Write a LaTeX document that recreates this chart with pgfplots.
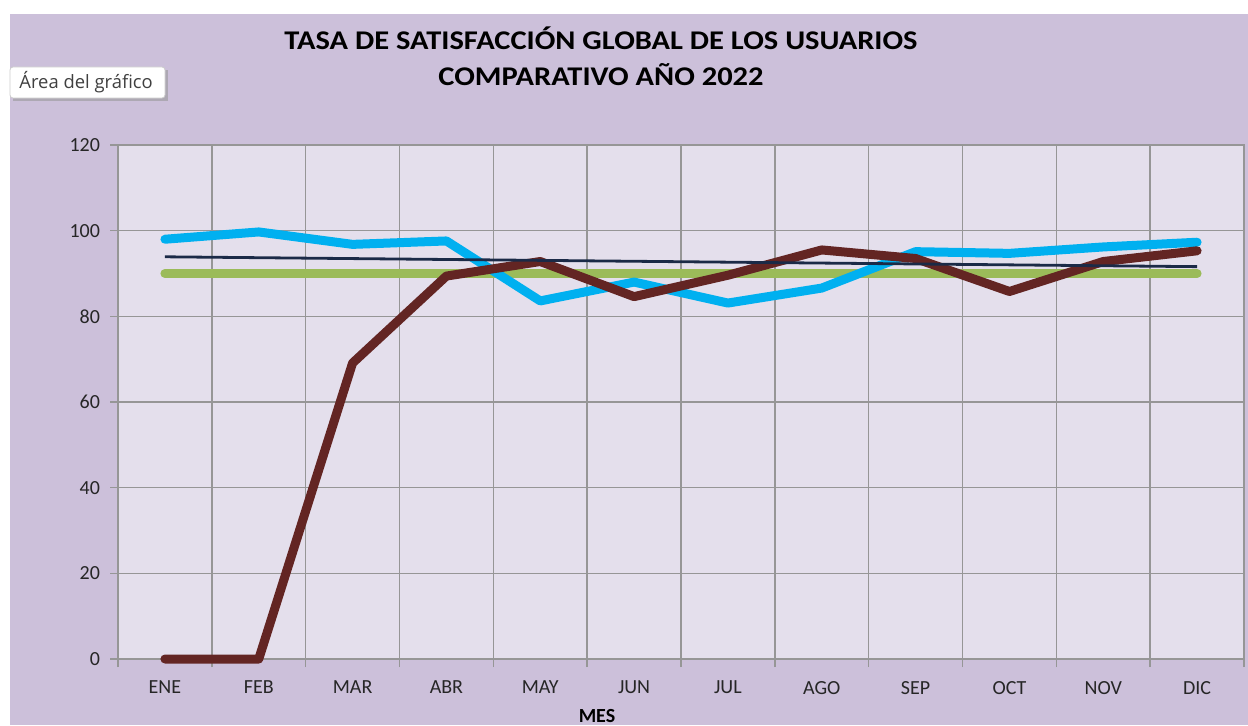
\documentclass[border=0pt]{standalone}
\usepackage{fontspec}
\setmainfont{Carlito}
\newfontfamily\titlefont[FakeStretch=1.13]{Carlito}
\newfontfamily\tipfont{Open Sans}
\usepackage{pgfplots}
\pgfplotsset{compat=1.18}

\definecolor{chartbg}{HTML}{CCC0DA}
\definecolor{plotbg}{HTML}{E4DFEC}
\definecolor{serieA}{HTML}{00B0F0}
\definecolor{serieB}{HTML}{632523}
\definecolor{meta}{HTML}{9BBB59}
\definecolor{tendencia}{HTML}{1B2A47}
\definecolor{rejilla}{HTML}{969696}

\begin{document}
\begin{tikzpicture}
    \clip (0,0) rectangle (624pt,362.5pt);
    \fill[white] (0,0) rectangle (624pt,362.5pt);
    \fill[chartbg] (5pt,0) rectangle (624pt,355.5pt);
    \begin{axis}[
            at={(59pt,33pt)}, anchor=south west,
            scale only axis, width=563pt, height=257pt,
            xmin=-0.5, xmax=11.5, ymin=0, ymax=120,
            xtick={-0.5,0.5,...,11.5}, xticklabels={},
            extra x ticks={0,...,11},
            extra x tick labels={ENE,FEB,MAR,ABR,MAY,JUN,JUL,AGO,SEP,OCT,NOV,DIC},
            extra x tick style={major tick length=0pt, grid=none},
            ytick={0,20,...,120},
            xmajorgrids, ymajorgrids,
            grid style={rejilla, line width=0.75pt},
            axis line style={rejilla, line width=0.75pt},
            tick style={rejilla, line width=0.75pt},
            tick align=outside, tick pos=left,
            major tick length=4pt,
            axis background/.style={fill=plotbg},
            ticklabel style={font=\fontsize{10}{12}\selectfont, text=black!85},
            /pgf/number format/assume math mode=true,
            xticklabel style={yshift=-7.5pt},
            yticklabel style={xshift=-1.5pt},
            clip=false,
        ]
        % meta
        \addplot[meta, line width=4.5pt, line cap=round] coordinates {
                (0,90) (1,90) (2,90) (3,90) (4,90) (5,90)
                (6,90) (7,90) (8,90) (9,90) (10,90) (11,90)
            };
        % serie azul
        \addplot[serieA, line width=4.5pt, line cap=round, line join=round] coordinates {
                (0,98.0) (1,99.7) (2,96.8) (3,97.6) (4,83.6) (5,88.0)
                (6,83.1) (7,86.6) (8,95.1) (9,94.7) (10,96.2) (11,97.3)
            };
        % serie 2022
        \addplot[serieB, line width=4.5pt, line cap=round, line join=round] coordinates {
                (0,0) (1,0) (2,69.1) (3,89.4) (4,92.8) (5,84.6)
                (6,89.6) (7,95.5) (8,93.5) (9,85.8) (10,92.8) (11,95.3)
            };
        % tendencia
        \addplot[tendencia, line width=1.4pt] coordinates {(0,93.9) (11,91.6)};
    \end{axis}
    \node[align=center, font=\titlefont\bfseries\fontsize{13.5}{18}\selectfont] at (300.5pt,334.5pt)
        {TASA DE SATISFACCIÓN GLOBAL DE LOS USUARIOS\\COMPARATIVO AÑO 2022};
    \fill[black!40, opacity=0.6] (6.5pt,312pt) rectangle (84pt,327.5pt);
    \draw[fill=white, draw=black!20, rounded corners=1.5pt] (5pt,313.5pt) rectangle (82.5pt,329pt);
    \node[anchor=west, inner sep=0pt, text=black!75, font=\tipfont\fontsize{9.2}{10}\selectfont] at (9.5pt,321.5pt) {Área del gráfico};
    \node[anchor=base, inner sep=0pt, font=\bfseries\fontsize{10}{12}\selectfont] at (298.5pt,1.2pt) {MES};
\end{tikzpicture}
\end{document}
